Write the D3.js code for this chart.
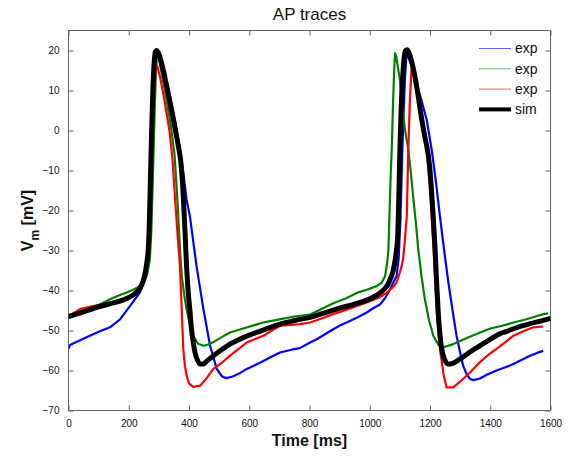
<!DOCTYPE html>
<html>
<head>
<meta charset="utf-8">
<script src="https://cdn.jsdelivr.net/npm/d3@7"></script>
<style>
  html, body { margin: 0; padding: 0; background: #fff; }
  svg { display: block; font-family: "Liberation Sans", Arial, Helvetica, sans-serif; }
</style>
</head>
<body>
<svg id="chart" width="571" height="456"></svg>
<script>
// Recorded action potentials (time in ms, membrane voltage in mV)
const expBlue = [
  [0,-54.5],[5,-53.6],[40,-52.4],[71,-51.3],[100,-50.3],[138,-49.2],[171,-47.2],[204,-43.9],
  [237,-40.5],[254,-37.2],[264,-33],[270,-25],[275,-12],[280,0],[286,12],[291,18.5],[295,19.5],
  [300,19],[315,15],[335,9],[355,2],[370,-4.8],[380,-10],[392,-17.3],[403,-21.4],[425,-33.9],
  [448,-44.7],[470,-53.8],[492,-59.6],[510,-61.5],[525,-61.9],[545,-61.5],[570,-60.6],[592,-59.6],
  [620,-58.6],[647,-57.6],[675,-56.5],[702,-55.5],[740,-54.8],[768,-54.4],[802,-53],[824,-52.2],
  [850,-51],[879,-49.7],[905,-48.6],[934,-47.6],[960,-46.7],[990,-45.5],[1010,-44.5],[1034,-43.5],
  [1050,-42],[1062,-40.5],[1078,-38],[1089,-36.4],[1096,-32],[1102,-22],[1107,-8],[1112,4],
  [1117,13],[1121,18],[1125,19],[1135,17],[1150,13],[1170,8],[1189,2.7],[1206,-5],[1220,-13],
  [1233,-21.4],[1247,-30],[1261,-38],[1275,-45],[1288,-51.3],[1300,-55.5],[1310,-58.8],[1322,-61],
  [1333,-62.1],[1344,-62.4],[1366,-62],[1390,-61],[1421,-60],[1450,-59.2],[1477,-58.4],[1505,-57.3],
  [1532,-56.3],[1555,-55.6],[1576,-55.1]
];

const expGreen = [
  [0,-46.8],[30,-46],[60,-45],[100,-43.6],[138,-42.2],[165,-41.3],[193,-40.5],[215,-39.8],
  [237,-38.9],[250,-37.8],[260,-36.4],[270,-32.2],[275,-25],[280,-12],[285,2],[289,12],[293,18],
  [296,19],[300,18],[310,14],[325,8],[340,1],[352,-6],[362,-18],[370,-29.7],[376,-36.4],[384,-41],
  [392,-44.7],[403,-48.5],[414,-51.3],[430,-53.3],[448,-53.8],[465,-53.5],[481,-52.9],[510,-51.6],
  [536,-50.5],[580,-49.5],[620,-48.6],[646,-48],[700,-47.2],[750,-46.5],[802,-46],[830,-45],
  [879,-43.2],[920,-42],[957,-40.6],[990,-39.8],[1023,-38.9],[1040,-38],[1051,-36.4],[1058,-33],
  [1062,-29.7],[1066,-20],[1070,-10],[1073,-4.8],[1077,6],[1081,15],[1084,19.3],[1088,18.5],
  [1093,16],[1100,12.7],[1108,6],[1117,0.2],[1128,-4.8],[1137,-11],[1145,-17.2],[1153,-23],
  [1161,-29.7],[1172,-36.5],[1183,-42.2],[1197,-47.5],[1211,-51.3],[1228,-53.6],[1244,-54.2],
  [1270,-53.6],[1300,-52.6],[1330,-51.6],[1366,-50.5],[1400,-49.5],[1440,-48.8],[1477,-48],
  [1520,-47.2],[1550,-46.5],[1576,-45.9],[1592,-45.7]
];

const expRed = [
  [0,-46.5],[20,-45.5],[40,-44.6],[82,-43.9],[110,-43.5],[138,-43],[160,-42.6],
  [181,-42.2],[205,-41.3],[225,-40.3],[240,-39.2],[252,-37.5],[262,-34],[268,-27],[273,-15],
  [278,-2],[283,9],[288,15],[291,16.4],[295,16],[305,13],[320,7],[335,0],[345,-7],[354,-17.3],
  [362,-26],[370,-33.9],[376,-45],[381,-54.6],[386,-58.5],[392,-61.3],[400,-63.2],[414,-64.1],
  [437,-63.8],[460,-61.8],[481,-59.6],[510,-58],[536,-56.3],[565,-54.6],[592,-53],[620,-52.1],
  [647,-51.3],[675,-50],[702,-48.8],[740,-48.6],[768,-48.4],[802,-48],[840,-47],[879,-45.9],
  [930,-44.6],[990,-43],[1030,-41.8],[1056,-40.6],[1075,-39.3],[1089,-38],[1100,-35.5],
  [1106,-33.9],[1111,-32],[1117,-27],[1123,-21.4],[1128,-4.8],[1133,7],[1137,13],[1139,15.6],
  [1142,15],[1150,13],[1165,8],[1180,1],[1190,-5],[1203,-18],[1212,-30],[1223,-46],[1233,-54.6],
  [1245,-61],[1255,-64.2],[1277,-64.2],[1300,-62.8],[1333,-60.5],[1366,-57.9],[1395,-56],
  [1421,-54.6],[1450,-52.9],[1477,-51.3],[1510,-50.2],[1543,-49.2],[1576,-49]
];

// Model output
const sim = [
  [0,-46.5],[40,-45.6],[82,-44.5],[138,-43.3],[180,-42.4],[204,-41.6],[225,-40.5],[237,-39.4],
  [247,-37.8],[254,-35.8],[260,-33],[264,-30.5],[268,-24],[272,-12],[276,0],[280,10],[284,16.5],
  [288,19.5],[292,20],[298,19.5],[310,16.5],[325,11.5],[340,6],[355,0],[365,-4],[373,-8],
  [380,-15],[386,-24],[392,-34],[397,-40],[403,-45],[408,-49.5],[414,-52.9],[420,-55.5],[428,-57.4],
  [437,-58.4],[448,-58.4],[460,-57.6],[480,-56.4],[508,-54.8],[536,-53.4],[565,-52.3],[592,-51.4],
  [650,-49.8],[702,-48.4],[750,-47.5],[802,-46.7],[850,-45.6],[900,-44.4],[950,-43.4],[990,-42.4],
  [1020,-41.3],[1045,-39.9],[1060,-38.5],[1070,-36.8],[1078,-35],[1084,-32.5],[1089,-29.7],
  [1093,-26],[1097,-15],[1100,-5],[1104,5],[1109,13],[1114,18],[1119,20],[1124,20.2],[1130,19.5],
  [1140,17],[1150,13.5],[1160,9],[1172,3],[1184,-2],[1194,-6],[1200,-10],[1205,-15],
  [1211,-22],[1217,-29.7],[1222,-38],[1228,-46.3],[1233,-51],[1239,-54.6],[1248,-57.2],
  [1261,-58.4],[1275,-58.2],[1300,-57.1],[1330,-55.5],[1366,-53.8],[1400,-52.2],[1432,-50.8],
  [1455,-50.2],[1490,-49.2],[1532,-48.3],[1570,-47.6],[1600,-47]
];

const xTicks = [0, 200, 400, 600, 800, 1000, 1200, 1400, 1600];
const yTicks = [-70, -60, -50, -40, -30, -20, -10, 0, 10, 20];
const legendLabels = ["exp", "exp", "exp", "sim"];

const svg = d3.select("#chart");
const mLeft = 68.5, mRight = 550.5, mTop = 30.5, mBottom = 410.5;

const x = d3.scaleLinear().domain([0, 1600]).range([mLeft, mRight]);
const y = d3.scaleLinear().domain([-70, 25]).range([mBottom, mTop]);

svg.append("defs").append("clipPath").attr("id", "plotclip")
  .append("rect").attr("x", mLeft).attr("y", mTop)
  .attr("width", mRight - mLeft).attr("height", mBottom - mTop);

const axisColor = "#666";
function styleAxis(g, showLabels) {
  g.select(".domain").remove();
  g.selectAll(".tick line").attr("stroke", axisColor).attr("stroke-width", 1);
  g.selectAll(".tick text").attr("fill", "#111").attr("font-size", "10px")
    .style("display", showLabels ? null : "none");
}

// Bottom / top / left / right axes with inward ticks
svg.append("g").attr("transform", `translate(0,${mBottom})`)
  .call(d3.axisBottom(x).tickValues(xTicks).tickSize(-5).tickPadding(9).tickFormat(d3.format("d")))
  .call(g => styleAxis(g, true));
svg.append("g").attr("transform", `translate(0,${mTop})`)
  .call(d3.axisTop(x).tickValues(xTicks).tickSize(-5))
  .call(g => styleAxis(g, false));
svg.append("g").attr("transform", `translate(${mLeft},0)`)
  .call(d3.axisLeft(y).tickValues(yTicks).tickSize(-5).tickPadding(9).tickFormat(d3.format("d")))
  .call(g => styleAxis(g, true));
svg.append("g").attr("transform", `translate(${mRight},0)`)
  .call(d3.axisRight(y).tickValues(yTicks).tickSize(-5))
  .call(g => styleAxis(g, false));

// Plot frame
svg.append("rect").attr("x", mLeft).attr("y", mTop)
  .attr("width", mRight - mLeft).attr("height", mBottom - mTop)
  .attr("fill", "none").attr("stroke", axisColor).attr("stroke-width", 1);

const lineLin = d3.line().x(d => x(d[0])).y(d => y(d[1]));
const lineSmooth = d3.line().x(d => x(d[0])).y(d => y(d[1])).curve(d3.curveMonotoneX);

const plot = svg.append("g").attr("clip-path", "url(#plotclip)");
const traces = [
  { data: expBlue, color: "#0000ff", width: 2.2, gen: lineLin },
  { data: expGreen, color: "#008000", width: 2.2, gen: lineLin },
  { data: expRed, color: "#ff0000", width: 2.2, gen: lineLin },
  { data: sim, color: "#000000", width: 5, gen: lineSmooth }
];
traces.forEach(t => {
  plot.append("path").datum(t.data)
    .attr("fill", "none").attr("stroke", t.color)
    .attr("stroke-width", t.width).attr("stroke-linejoin", "round")
    .attr("d", t.gen);
});

// Legend
const legendColors = ["#0000ff", "#008000", "#ff0000", "#000000"];
const legendWidths = [1, 1, 1, 4];
const lg = svg.append("g");
legendLabels.forEach((lab, i) => {
  const yy = 48.5 + i * 20.3;
  lg.append("line").attr("x1", 479).attr("x2", 511).attr("y1", yy).attr("y2", yy)
    .attr("stroke", legendColors[i]).attr("stroke-width", legendWidths[i])
    .attr("stroke-opacity", i < 3 ? 0.6 : 1);
  lg.append("text").attr("x", 515).attr("y", yy).attr("dy", "0.35em")
    .attr("font-size", "14px").attr("fill", "#111").text(lab);
});

// Title and axis labels
svg.append("text").attr("x", (mLeft + mRight) / 2).attr("y", 20)
  .attr("text-anchor", "middle").attr("font-size", "17px").attr("fill", "#111").text("AP traces");
svg.append("text").attr("x", (mLeft + mRight) / 2).attr("y", 446)
  .attr("text-anchor", "middle").attr("font-size", "16px").attr("font-weight", "bold")
  .attr("fill", "#111").text("Time [ms]");
const yl = svg.append("text")
  .attr("transform", `translate(33,${(mTop + mBottom) / 2}) rotate(-90)`)
  .attr("text-anchor", "middle").attr("font-size", "16px").attr("font-weight", "bold").attr("fill", "#111");
yl.append("tspan").text("V");
yl.append("tspan").attr("dy", "0.5em").attr("font-size", "12px").text("m");
yl.append("tspan").attr("dy", "-0.4em").text(" [mV]");
</script>
</body>
</html>
